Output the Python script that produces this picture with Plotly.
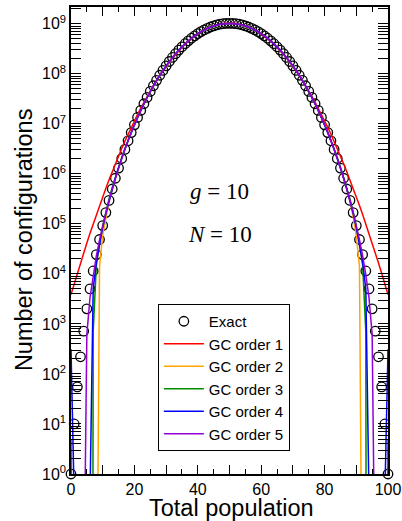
import plotly.graph_objects as go

# ---------------- data (left half n = 0..50; the distribution is symmetric about n = 50) ----------------
population = list(range(101))

exact_half = [1, 10, 55, 220, 715, 2002, 5005, 11440, 24310, 48620,
              92378, 167950, 293830, 496870, 814990, 1300354, 2022955, 3074500, 4572425, 6663800,
              9528805, 13383370, 18480520, 25109950, 33595375, 44289256, 57564595, 73803620, 93383345, 116658190,
              143940082, 175476730, 211429075, 251849140, 296659645, 345636808, 398397725, 454393610, 512909980, 573074590,
              633873559, 694175680, 752764375, 808376140, 859743835, 905642810, 944937620, 976626970, 999884545, 1014093520,
              1018872811]

gc1_half = [3856, 6326, 10274, 16522, 26303, 41458, 64695, 99950, 152885, 231525,
            347117, 515254, 757230, 1101800, 1587100, 2263520, 3196050, 4468060, 6183670, 8473570,
            1.14950e7, 1.54395e7, 2.05307e7, 2.70287e7, 3.52303e7, 4.54638e7, 5.80857e7, 7.34724e7, 9.20120e7, 1.14082e8,
            1.40038e8, 1.70190e8, 2.04776e8, 2.43938e8, 2.87699e8, 3.35934e8, 3.88353e8, 4.44484e8, 5.03667e8, 5.65050e8,
            6.27608e8, 6.90155e8, 7.51383e8, 8.09904e8, 8.64295e8, 9.13164e8, 9.55195e8, 9.89218e8, 1.014261e9, 1.029589e9,
            1.03475e9]

gc2_half = [None, None, None, None, None, None, None, None, None, 14129,
            59502, 140487, 276560, 495366, 835164, 1348055, 2103085, 3190427, 4724596, 6850027,
            9.74201e6, 1.36133e7, 1.87121e7, 2.53244e7, 3.37730e7, 4.44094e7, 5.76081e7, 7.37547e7, 9.32348e7, 1.16409e8,
            1.43597e8, 1.75059e8, 2.10962e8, 2.51363e8, 2.96191e8, 3.45220e8, 3.98063e8, 4.54163e8, 5.12798e8, 5.73081e8,
            6.33989e8, 6.94379e8, 7.53027e8, 8.08668e8, 8.60035e8, 9.05911e8, 9.45165e8, 9.76807e8, 1.000023e9, 1.014201e9,
            1.018970e9]

gc3_half = [None, None, None, None, None, None, None, 707.6, 14867, 42452,
            92072, 176611, 314861, 533614, 870125, 1375367, 2117284, 3185034, 4692404, 6783567,
            9.63427e6, 1.34585e7, 1.85070e7, 2.50693e7, 3.34725e7, 4.40740e7, 5.72544e7, 7.34055e7, 9.29186e7, 1.16158e8,
            1.43447e8, 1.75042e8, 2.11109e8, 2.51694e8, 2.96715e8, 3.45931e8, 3.98939e8, 4.55163e8, 5.13864e8, 5.74143e8,
            6.34969e8, 6.95197e8, 7.53608e8, 8.08951e8, 8.59976e8, 9.05494e8, 9.44402e8, 9.75738e8, 9.98714e8, 1.012738e9,
            1.017459e9]

gc4_half = [311.4, None, None, None, None, None, None, 5006.5, 16790, 40549,
            84614, 161687, 290541, 498194, 822468, 1315284, 2045992, 3105565, 4609969, 6705695,
            9.57077e6, 1.34210e7, 1.85081e7, 2.51213e7, 3.35860e7, 4.42555e7, 5.75050e7, 7.37185e7, 9.32788e7, 1.16541e8,
            1.43820e8, 1.75367e8, 2.11342e8, 2.51796e8, 2.96651e8, 3.45679e8, 3.98492e8, 4.54540e8, 5.13090e8, 5.73277e8,
            6.34082e8, 6.94370e8, 7.52924e8, 8.08486e8, 8.59789e8, 9.05619e8, 9.44843e8, 9.76467e8, 9.99675e8, 1.013849e9,
            1.018618e9]

gc5_half = [4.98, None, None, None, None, 618.5, 3361.5, 9717, 22798, 47717,
            92566, 169744, 297682, 503052, 823378, 1310422, 2033572, 3084141, 4578785, 6665073,
            9.52246e6, 1.33685e7, 1.84566e7, 2.50775e7, 3.35578e7, 4.42511e7, 5.75316e7, 7.37814e7, 9.33795e7, 1.16677e8,
            1.43983e8, 1.75542e8, 2.11512e8, 2.51940e8, 2.96746e8, 3.45706e8, 3.98436e8, 4.54396e8, 5.12862e8, 5.72982e8,
            6.33745e8, 6.94025e8, 7.52609e8, 8.08240e8, 8.59645e8, 9.05599e8, 9.44955e8, 9.76706e8, 1.000016e9, 1.014258e9,
            1.019053e9]

# populations (left half) where each expansion changes sign (curve plunges below 10^0)
gc2_zeros = [8.49]
gc3_zeros = [6.92]
gc4_zeros = [0.95, 6.03]
gc5_zeros = [0.05, 4.45]

series_names = ["GC order 1", "GC order 2", "GC order 3", "GC order 4", "GC order 5"]
series_colors = ["#ff0000", "#ffa500", "#008b00", "#0000ff", "#9400d3"]
y_tick_exponents = list(range(0, 10))
x_label_values = list(range(0, 101, 20))


def mirror(half):
    return half + half[-2::-1]


def with_zeros(values, zeros_left, floor=0.5):
    zeros = list(zeros_left) + [100 - z for z in zeros_left]
    pts = list(zip(population, values)) + [(z, floor) for z in zeros]
    pts.sort(key=lambda p: p[0])
    return [p[0] for p in pts], [p[1] for p in pts]


fig = go.Figure()

fig.add_trace(go.Scatter(
    x=population, y=mirror(exact_half), mode="markers", name="Exact",
    marker=dict(symbol="circle-open", size=9.5, color="black", line=dict(width=1.3, color="black")),
    cliponaxis=False))

halves = [gc1_half, gc2_half, gc3_half, gc4_half, gc5_half]
zero_sets = [[], gc2_zeros, gc3_zeros, gc4_zeros, gc5_zeros]
for name, color, half, zs in zip(series_names, series_colors, halves, zero_sets):
    xs, ys = with_zeros(mirror(half), zs)
    fig.add_trace(go.Scatter(x=xs, y=ys, mode="lines", name=name,
                             line=dict(color=color, width=1.5), connectgaps=False))

# empty helper trace so the overlaid tick-only axis is drawn
fig.add_trace(go.Scatter(x=[], y=[], xaxis="x2", yaxis="y", showlegend=False, hoverinfo="skip"))

fig.add_annotation(x=47, y=5.64, xref="x", yref="y", showarrow=False,
                   text="<i>g</i> = 10", font=dict(family="Liberation Serif", size=23, color="black"))
fig.add_annotation(x=47, y=4.78, xref="x", yref="y", showarrow=False,
                   text="<i>N</i> = 10", font=dict(family="Liberation Serif", size=23, color="black"))

# axis titles
fig.add_annotation(x=0.505, y=-0.073, xref="paper", yref="paper", showarrow=False,
                   text="Total population", font=dict(size=23.5), xanchor="center", yanchor="middle")
fig.add_annotation(x=-0.148, y=0.501, xref="paper", yref="paper", showarrow=False, textangle=-90,
                   text="Number of configurations", font=dict(size=23.5), xanchor="center", yanchor="middle")

minor_y = [m * 10 ** e for e in range(0, 10) for m in range(2, 10)]

fig.update_layout(
    width=402, height=521,
    margin=dict(l=71, r=14, t=7, b=47),
    paper_bgcolor="white", plot_bgcolor="white",
    font=dict(family="Liberation Sans", color="black"),
    showlegend=True,
    legend=dict(x=0.274, y=0.364, xanchor="left", yanchor="top",
                bordercolor="black", borderwidth=1, bgcolor="white", itemwidth=40,
                font=dict(size=15, family="Liberation Sans"), tracegroupgap=0),
    xaxis=dict(range=[0, 100], tickmode="array", tickvals=x_label_values,
               ticks="inside", ticklen=9, tickwidth=1.2, tickcolor="black",
               minor=dict(tickmode="array", tickvals=list(range(5, 100, 10)), ticks="inside",
                          ticklen=5, tickwidth=1.2, tickcolor="black"),
               showline=True, linecolor="black", linewidth=1.5, mirror="allticks",
               showgrid=False, zeroline=False, automargin=False, ticklabeloverflow="allow",
               tickfont=dict(size=16)),
    xaxis2=dict(range=[0, 100], overlaying="x", anchor="y", side="bottom",
                tickmode="array", tickvals=list(range(10, 100, 20)), showticklabels=False,
                ticks="inside", ticklen=9, tickwidth=1.2, tickcolor="black",
                showline=False, mirror="allticks", showgrid=False, zeroline=False, automargin=False),
    yaxis=dict(type="log", range=[0, 9.334], tickmode="array",
               tickvals=[10 ** e for e in y_tick_exponents],
               ticktext=["10<sup>%d</sup>" % e for e in y_tick_exponents],
               ticks="inside", ticklen=10, tickwidth=1.2, tickcolor="black",
               minor=dict(tickmode="array", tickvals=minor_y, ticks="inside",
                          ticklen=5, tickwidth=1.2, tickcolor="black"),
               showline=True, linecolor="black", linewidth=1.5, mirror="allticks",
               showgrid=False, zeroline=False, automargin=False, ticklabeloverflow="allow",
               tickfont=dict(size=16)),
)

fig.write_html("out.html", config={"displayModeBar": False},
               post_script="document.body.style.margin='0';document.body.style.padding='0';")
